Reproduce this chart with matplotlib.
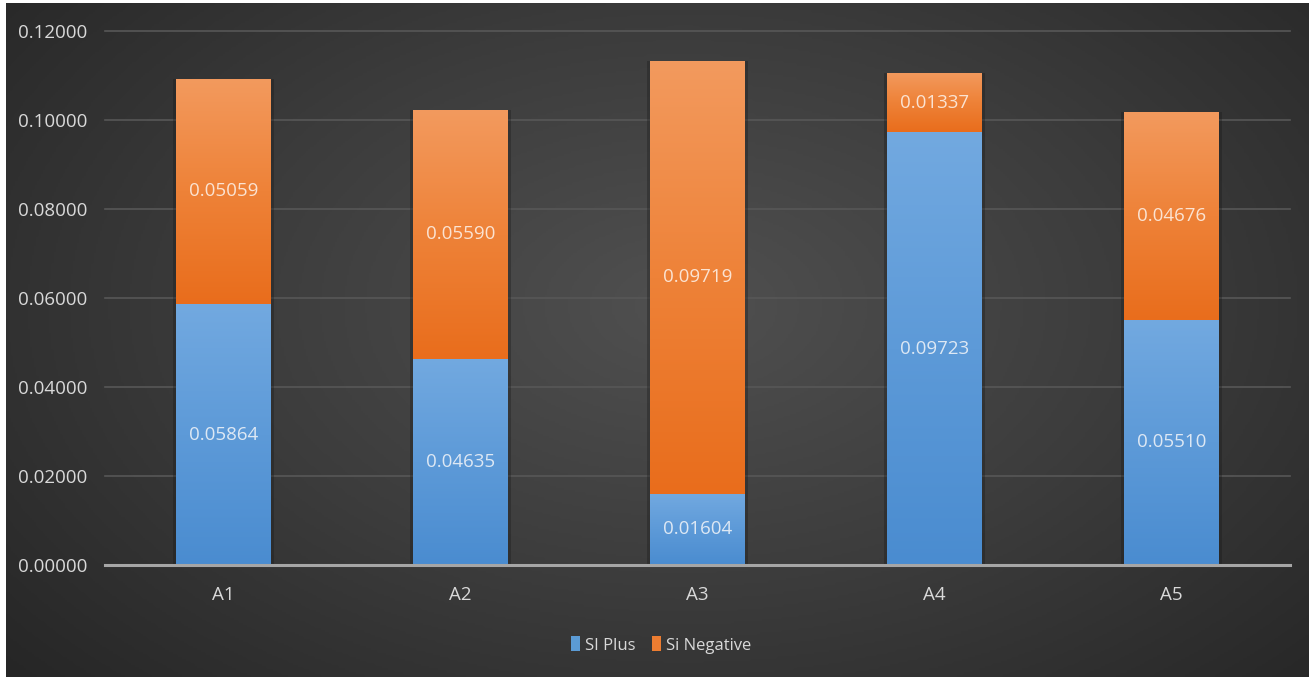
import numpy as np
import matplotlib.pyplot as plt
from matplotlib.colors import LinearSegmentedColormap
from matplotlib.patches import Patch, Rectangle

plt.rcParams['font.family'] = ['Open Sans', 'DejaVu Sans']

categories = ['A1', 'A2', 'A3', 'A4', 'A5']
si_plus = [0.05864, 0.04635, 0.01604, 0.09723, 0.05510]
si_negative = [0.05059, 0.05590, 0.09719, 0.01337, 0.04676]
y_ticks = [0.0, 0.02, 0.04, 0.06, 0.08, 0.10, 0.12]

W, H = 1309, 679
fig = plt.figure(figsize=(W / 100, H / 100), dpi=100)
fig.patch.set_facecolor('white')

# dark radial backdrop, lighter near the middle
bg = fig.add_axes([6 / W, 2 / H, 1 - 6 / W, 1 - 5 / H])
yy, xx = np.mgrid[0:1:300j, 0:1:600j]
r = np.sqrt(((xx - 0.52) / 0.75) ** 2 + ((yy - 0.45) / 0.9) ** 2)
bg_cmap = LinearSegmentedColormap.from_list('bg', ['#505050', '#3c3c3c', '#262626'])
bg.imshow(np.clip(r, 0, 1), cmap=bg_cmap, aspect='auto', extent=(0, 1, 0, 1))
bg.set_axis_off()

ax = fig.add_axes([105 / W, 1 - 565 / H, 1185 / W, (565 - 31) / H])
ax.patch.set_alpha(0)
x = np.arange(len(categories))
width = 0.4

blue_cmap = LinearSegmentedColormap.from_list('blue', ['#4a8cd0', '#5d9ad8', '#72a9e0'])
orange_cmap = LinearSegmentedColormap.from_list('orange', ['#e96d1c', '#ee8238', '#f39a5e'])

for yv in y_ticks[1:]:
    ax.axhline(yv, color='#575757', lw=1.2, zorder=0, clip_on=False)


def gradient_bar(xc, bottom, height, cmap):
    # soft shadow behind each segment
    ax.add_patch(Rectangle((xc - width / 2 - 0.012, bottom), width + 0.024, height,
                           color='#1a1a1a', alpha=0.35, lw=0, zorder=1))
    rect = Rectangle((xc - width / 2, bottom), width, height, lw=0, fc='none', zorder=2)
    ax.add_patch(rect)
    grad = np.linspace(0, 1, 256).reshape(-1, 1)
    im = ax.imshow(grad, cmap=cmap, aspect='auto', origin='lower', zorder=2,
                   extent=(xc - width / 2, xc + width / 2, bottom, bottom + height))
    im.set_clip_path(rect)


for i in range(len(categories)):
    gradient_bar(x[i], 0, si_plus[i], blue_cmap)
    gradient_bar(x[i], si_plus[i], si_negative[i], orange_cmap)
    ax.text(x[i], si_plus[i] / 2, f'{si_plus[i]:.5f}', ha='center', va='center',
            color='#dde8f4', fontsize=13.5, zorder=3)
    ax.text(x[i], si_plus[i] + si_negative[i] / 2, f'{si_negative[i]:.5f}',
            ha='center', va='center', color='#fbe3d2', fontsize=13.5, zorder=3)

ax.axhline(0, color='#a6a6a6', lw=2.2, zorder=4, clip_on=False)

ax.set_xlim(-0.5, 4.5)
ax.set_ylim(0, 0.12)
ax.set_xticks(x)
ax.set_xticklabels(categories)
ax.set_yticks(y_ticks)
ax.set_yticklabels([f'{v:.5f}' for v in y_ticks])
ax.tick_params(axis='both', length=0, colors='#d9d9d9', labelsize=13.5)
ax.tick_params(axis='y', pad=13)
ax.tick_params(axis='x', pad=15)
for s in ax.spines.values():
    s.set_visible(False)

handles = [Patch(facecolor='#5b9bd5', label='SI Plus'),
           Patch(facecolor='#ed7d31', label='Si Negative')]
fig.legend(handles=handles, loc='center', bbox_to_anchor=(0.505, 1 - 645 / H),
           ncol=2, frameon=False, fontsize=12, labelcolor='#d9d9d9',
           handlelength=0.55, handleheight=1.0, handletextpad=0.3, columnspacing=1.0)

fig.savefig('out.png', dpi=100, facecolor='white')
